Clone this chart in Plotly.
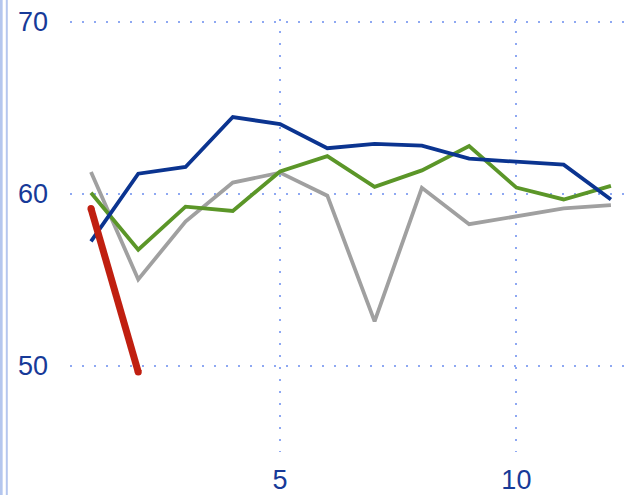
import plotly.graph_objects as go

x_vals = list(range(1, 13))
blue = [57.24, 61.18, 61.57, 64.47, 64.06, 62.66, 62.91, 62.81, 62.05, 61.86, 61.70, 59.68]
green = [60.07, 56.76, 59.26, 59.01, 61.31, 62.20, 60.41, 61.37, 62.78, 60.37, 59.68, 60.47]
gray = [61.28, 55.03, 58.40, 60.66, 61.24, 59.90, 52.59, 60.36, 58.24, 58.69, 59.16, 59.35]
red_x = [1, 2]
red = [59.16, 49.65]

x_ticks = [5, 10]
y_ticks = [50, 60, 70]

fig = go.Figure()
fig.add_trace(go.Scatter(x=x_vals, y=gray, mode="lines", line=dict(color="#a0a0a0", width=3.8)))
fig.add_trace(go.Scatter(x=x_vals, y=green, mode="lines", line=dict(color="#5b9628", width=3.8)))
fig.add_trace(go.Scatter(x=x_vals, y=blue, mode="lines", line=dict(color="#0b3490", width=3.8)))
fig.add_trace(go.Scatter(x=red_x, y=red, mode="lines+markers", line=dict(color="#c01f10", width=7),
                         marker=dict(color="#c01f10", size=7, line=dict(width=0))))

font = dict(family="Liberation Sans, Arial, sans-serif", size=27, color="#173a98")
grid_color = "#8ea8f2"

fig.update_layout(
    width=627, height=495,
    margin=dict(l=70, r=0, t=19, b=40),
    paper_bgcolor="white", plot_bgcolor="white",
    showlegend=False,
    xaxis=dict(range=[0.556, 12.34], tickvals=x_ticks, showgrid=True, gridcolor=grid_color,
               gridwidth=2, griddash="2px,10px", zeroline=False, showline=False,
               tickfont=font, ticks="", ticklabelstandoff=9),
    yaxis=dict(range=[45, 70.17], tickvals=y_ticks, showgrid=True, gridcolor=grid_color,
               gridwidth=2, griddash="2px,10px", zeroline=False, showline=False,
               tickfont=font, ticks="", ticklabelstandoff=21),
    shapes=[
        dict(type="line", xref="paper", yref="paper", x0=-68.7/557, x1=-68.7/557, y0=-0.1, y1=1.06,
             line=dict(color="#b4c6ee", width=2.7)),
        dict(type="line", xref="paper", yref="paper", x0=-63.2/557, x1=-63.2/557, y0=-0.1, y1=1.06,
             line=dict(color="#b4c6ee", width=2)),
    ],
)

fig.write_html("out.html", config={"displayModeBar": False},
               post_script="document.body.style.margin='0';document.body.style.padding='0';")
